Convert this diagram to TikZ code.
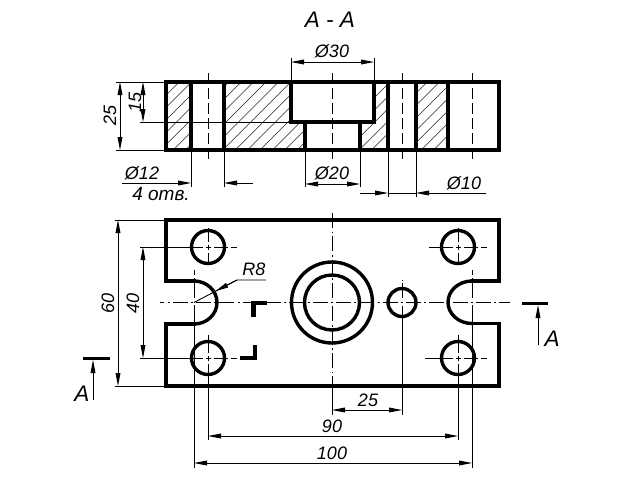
\documentclass[tikz,border=0pt]{standalone}
\usepackage{fontspec}
\setmainfont{Liberation Sans}
\usetikzlibrary{arrows.meta}
\tikzset{
  tipmark/.tip={Stealth[length=13pt,width=4.8pt,inset=0pt]},
  outline/.style={line width=3.8pt,line cap=rect,line join=miter},
  roundline/.style={line width=3.4pt},
  thin line/.style={line width=0.9pt,black},
  centre/.style={line width=0.9pt,dash pattern=on 15pt off 3.5pt on 1.83pt off 3pt},
  sectcentre/.style={line width=0.9pt,dash pattern=on 11pt off 4pt},
  hatchline/.style={line width=0.55pt,black!85},
  dimline/.style={line width=0.9pt,{tipmark}-{tipmark}},
  tipend/.style={line width=0.9pt,-{tipmark}},
  dimtext/.style={font=\fontsize{18}{18}\selectfont\itshape,inner sep=0pt,text=black},
  titletext/.style={font=\fontsize{22.5}{22.5}\selectfont\itshape,inner sep=0pt,text=black},
  cutbar/.style={line width=3pt},
  cutmark/.style={line width=4.8pt,line join=miter}
}
\begin{document}
\begin{tikzpicture}[x=1pt,y=-1pt]
\useasboundingbox (0,0) rectangle (640,480);
\fill[white] (0,0) rectangle (640,480);
% hatching
\begin{scope}
\clip (166,82) -- (191,82) -- (191,150) -- (166,150) -- cycle
      (224,82) -- (291,82) -- (291,122) -- (305,122) -- (305,150) -- (224,150) -- cycle
      (374,82) -- (388,82) -- (388,150) -- (360,150) -- (360,122) -- (374,122) -- cycle
      (416,82) -- (448,82) -- (448,150) -- (416,150) -- cycle;
\foreach \i in {0,...,34}{
  \draw[hatchline] ({66+\i*12.4},158) -- ({66+\i*12.4+85},73);
}
\end{scope}
% section thin lines
\draw[thin line] (116,82) -- (166,82);
\draw[thin line] (116,150) -- (166,150);
\draw[thin line] (140,122) -- (291,122);
\draw[dimline] (120,82) -- (120,150);
\draw[dimline] (143,82) -- (143,122);
\foreach \x in {208,332,402,472}{\draw[sectcentre] (\x,73) -- (\x,159);}
% section outlines
\draw[outline] (166,82) rectangle (499,150);
\draw[outline] (191,82) -- (191,150);
\draw[outline] (224,82) -- (224,150);
\draw[outline] (291,82) -- (291,122) -- (374,122) -- (374,82);
\draw[outline] (305,122) -- (305,150);
\draw[outline] (360,122) -- (360,150);
\draw[outline] (388,82) -- (388,150);
\draw[outline] (416,82) -- (416,150);
\draw[outline] (448,82) -- (448,150);
% section dimensions
\draw[thin line] (291,58) -- (291,82);
\draw[thin line] (374,58) -- (374,82);
\draw[dimline] (291,62) -- (374,62);
\draw[thin line] (305,150) -- (305,187);
\draw[thin line] (360,150) -- (360,187);
\draw[dimline] (305,184) -- (360,184);
\draw[thin line] (191,150) -- (191,187);
\draw[thin line] (224,150) -- (224,187);
\draw[tipend] (122,183) -- (191,183);
\draw[tipend] (253,183) -- (224,183);
\draw[thin line] (388,150) -- (388,197);
\draw[thin line] (416,150) -- (416,197);
\draw[tipend] (360,193) -- (388,193);
\draw[thin line] (388,193) -- (416,193);
\draw[tipend] (486,193) -- (416,193);
\node[titletext] (title) at (330,20) {A - A};
\node[dimtext] (d30) at (332,51) {Ø30};
\node[dimtext] (d20) at (332,173) {Ø20};
\node[dimtext] (d10) at (464,183) {Ø10};
\node[dimtext] (d12) at (142,173) {Ø12};
\node[dimtext,font=\fontsize{19}{19}\selectfont\itshape] (holes) at (161,194) {4 отв.};
\node[dimtext,rotate=90] (h25) at (110,115) {25};
\node[dimtext,rotate=90] (h15) at (135,102) {15};
% plan centre lines
\draw[centre,dash phase=10.75pt] (160,302.5) -- (510,302.5);
\draw[centre,dash phase=22.25pt] (332,212) -- (332,386);
\draw[centre,dash phase=20.25pt] (402,280) -- (402,306);
\draw[centre,dash phase=10.25pt] (194,270) -- (194,305);
\draw[centre,dash phase=10.25pt] (472,270) -- (472,305);
% hole centre crosses
\foreach \x/\y in {208/247,208/358,458/247,458/358}{
  \draw[thin line] (\x-2.5,\y) -- (\x+2.5,\y);
  \draw[thin line] (\x,\y-2.5) -- (\x,\y+2.5);
  \draw[thin line] (\x+5.5,\y) -- (\x+20,\y);
  \draw[thin line] (\x+23,\y) -- (\x+29,\y);
}
\draw[thin line] (140,247) -- (202.5,247);
\draw[thin line] (140,358) -- (202.5,358);
\draw[thin line] (429,247) -- (452.5,247);
\draw[thin line] (425,358) -- (452.5,358);
\foreach \x in {208,458}{
  \draw[thin line] (\x,228) -- (\x,241.5);
  \draw[thin line] (\x,252.5) -- (\x,265);
  \draw[thin line] (\x,335) -- (\x,352.5);
  \draw[thin line] (\x,363.5) -- (\x,440);
}
% extension lines plan
\draw[thin line] (332,386) -- (332,415);
\draw[thin line] (402,306) -- (402,415);
\draw[thin line] (194,305) -- (194,468);
\draw[thin line] (472,305) -- (472,468);
\draw[thin line] (115,220) -- (166,220);
\draw[thin line] (115,386) -- (166,386);
% plan outlines
\draw[outline] (194,281) -- (166,281) -- (166,220) -- (499,220) -- (499,281) -- (472,281);
\draw[outline] (472,323.5) -- (499,323.5) -- (499,386) -- (166,386) -- (166,324) -- (194,324);
\draw[roundline] (194,281) arc[start angle=-90,end angle=90,x radius=23,y radius=21.5];
\draw[roundline] (472,281) arc[start angle=270,end angle=90,x radius=24,y radius=21.25];
\foreach \n/\x/\y in {a/208/247,b/208/358,c/458/247,d/458/358}{
  \draw[roundline] (\x,\y) circle[radius=16.5];
}
\draw[roundline] (332,302.5) circle[radius=40.5];
\draw[roundline] (332,302.5) circle[radius=27.5];
\draw[roundline] (402,302.5) circle[radius=14];
% plan dimensions
\draw[dimline] (118,220) -- (118,386);
\draw[dimline] (143,247) -- (143,358);
\draw[dimline] (332,410) -- (402,410);
\draw[dimline] (208,436) -- (458,436);
\draw[dimline] (194,463) -- (472,463);
\node[dimtext,rotate=90] (h60) at (108,303) {60};
\node[dimtext,rotate=90] (h40) at (133,303) {40};
\node[dimtext] (d25) at (368,400) {25};
\node[dimtext] (d90) at (332,426) {90};
\node[dimtext] (d100) at (332,453) {100};
% R8 leader
\draw[thin line] (194,302.5) -- (237,280) -- (266,280);
\draw[tipend] (237,280) -- (215.5,291.2);
\node[dimtext] (r8) at (254,269) {R8};
% section marks
\draw[cutmark] (267,303) -- (253.5,303) -- (253.5,317);
\draw[cutmark] (240,358) -- (255,358) -- (255,345);
% cutting plane
\draw[cutbar] (83,358) -- (110,358);
\draw[cutbar] (522,303) -- (548,303);
\draw[tipend] (93,400) -- (93,360);
\draw[tipend] (538,345) -- (538,305);
\node[titletext] (al) at (82,394) {A};
\node[titletext] (ar) at (552,339) {A};
\end{tikzpicture}
\end{document}
